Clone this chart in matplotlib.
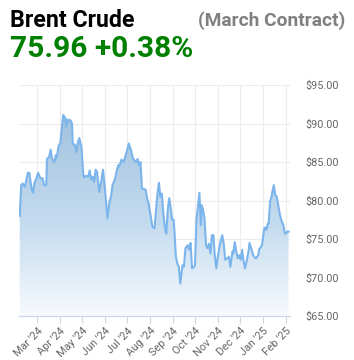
import matplotlib
matplotlib.use("Agg")
import matplotlib.pyplot as plt
import matplotlib.dates as mdates
from matplotlib.colors import LinearSegmentedColormap
from matplotlib.ticker import FuncFormatter
from matplotlib.patches import PathPatch
import numpy as np
import pandas as pd

dates = [
    "2024-02-06", "2024-02-08", "2024-02-10", "2024-02-13", "2024-02-17", "2024-02-19", "2024-02-22", "2024-02-24",
    "2024-02-26", "2024-02-28", "2024-03-02", "2024-03-05", "2024-03-08", "2024-03-10", "2024-03-13", "2024-03-14",
    "2024-03-17", "2024-03-19", "2024-03-21", "2024-03-24", "2024-03-26", "2024-03-27", "2024-03-30", "2024-04-01",
    "2024-04-03", "2024-04-05", "2024-04-08", "2024-04-09", "2024-04-11", "2024-04-15", "2024-04-17", "2024-04-18",
    "2024-04-21", "2024-04-23", "2024-04-25", "2024-04-27", "2024-04-30", "2024-05-02", "2024-05-03", "2024-05-06",
    "2024-05-09", "2024-05-11", "2024-05-13", "2024-05-15", "2024-05-17", "2024-05-19", "2024-05-21", "2024-05-24",
    "2024-05-27", "2024-05-29", "2024-05-31", "2024-06-02", "2024-06-04", "2024-06-07", "2024-06-09", "2024-06-11",
    "2024-06-14", "2024-06-17", "2024-06-19", "2024-06-20", "2024-06-23", "2024-06-26", "2024-06-29", "2024-07-01",
    "2024-07-03", "2024-07-06", "2024-07-08", "2024-07-10", "2024-07-13", "2024-07-15", "2024-07-17", "2024-07-19",
    "2024-07-21", "2024-07-23", "2024-07-26", "2024-07-28", "2024-07-30", "2024-08-02", "2024-08-04", "2024-08-07",
    "2024-08-09", "2024-08-11", "2024-08-13", "2024-08-15", "2024-08-17", "2024-08-19", "2024-08-21", "2024-08-23",
    "2024-08-25", "2024-08-27", "2024-08-29", "2024-08-31", "2024-09-02", "2024-09-03", "2024-09-05", "2024-09-07",
    "2024-09-09", "2024-09-11", "2024-09-14", "2024-09-16", "2024-09-18", "2024-09-21", "2024-09-23", "2024-09-25",
    "2024-09-27", "2024-09-30", "2024-10-01", "2024-10-03", "2024-10-05", "2024-10-07", "2024-10-09", "2024-10-10",
    "2024-10-12", "2024-10-14", "2024-10-16", "2024-10-18", "2024-10-20", "2024-10-22", "2024-10-24", "2024-10-26",
    "2024-10-28", "2024-10-30", "2024-11-01", "2024-11-04", "2024-11-07", "2024-11-09", "2024-11-11", "2024-11-14",
    "2024-11-16", "2024-11-18", "2024-11-21", "2024-11-22", "2024-11-24", "2024-11-26", "2024-11-28", "2024-11-30",
    "2024-12-02", "2024-12-04", "2024-12-06", "2024-12-08", "2024-12-10", "2024-12-13", "2024-12-14", "2024-12-17",
    "2024-12-19", "2024-12-21", "2024-12-23", "2024-12-26", "2024-12-27", "2024-12-29", "2024-12-31", "2025-01-03",
    "2025-01-05", "2025-01-06", "2025-01-08", "2025-01-09", "2025-01-11", "2025-01-13", "2025-01-14", "2025-01-16",
    "2025-01-18", "2025-01-20", "2025-01-22", "2025-01-24", "2025-01-26", "2025-01-29", "2025-01-31", "2025-02-02",
    "2025-02-04", "2025-02-05",
]
prices = [
    78.0, 82.0, 82.2, 81.8, 83.6, 83.6, 81.6, 81.0,
    82.3, 82.7, 83.6, 82.9, 82.9, 82.0, 82.0, 85.4,
    85.7, 86.6, 85.4, 85.0, 85.9, 85.5, 87.2, 87.4,
    89.2, 91.1, 90.7, 89.6, 90.5, 90.4, 90.0, 87.4,
    87.2, 86.3, 87.6, 88.1, 86.8, 83.7, 83.0, 83.2,
    83.1, 83.9, 82.7, 83.1, 82.4, 84.0, 83.7, 81.1,
    82.7, 84.0, 82.2, 80.1, 77.7, 79.9, 80.5, 82.0,
    82.7, 84.0, 84.6, 84.4, 85.3, 85.0, 85.9, 86.6,
    87.4, 86.6, 85.7, 85.3, 85.0, 85.4, 84.6, 85.0,
    81.6, 81.5, 81.4, 80.3, 79.6, 77.9, 76.6, 76.4,
    78.6, 80.9, 82.3, 80.5, 80.9, 78.3, 76.6, 75.7,
    78.8, 80.3, 79.0, 77.5, 77.5, 76.2, 72.7, 71.8,
    71.4, 69.2, 71.6, 71.4, 73.8, 74.2, 73.6, 74.5,
    71.2, 71.4, 71.6, 77.7, 79.2, 81.0, 76.8, 79.4,
    78.8, 77.5, 74.2, 73.8, 74.4, 73.1, 75.5, 75.5,
    72.7, 71.2, 72.7, 74.4, 75.5, 74.4, 72.3, 72.5,
    72.7, 71.4, 73.4, 73.1, 74.6, 73.4, 72.5, 72.9,
    72.3, 73.6, 72.1, 71.2, 72.1, 73.6, 74.5, 73.6,
    72.9, 72.6, 72.5, 72.9, 73.6, 73.9, 74.2, 76.4,
    76.5, 76.2, 77.0, 77.0, 79.9, 80.5, 81.1, 82.0,
    80.7, 80.5, 79.4, 78.3, 77.5, 76.8, 75.7, 75.8,
    76.0, 75.96,
]
month_ticks = ["2024-03-01", "2024-04-01", "2024-05-01", "2024-06-01", "2024-07-01", "2024-08-01",
               "2024-09-01", "2024-10-01", "2024-11-01", "2024-12-01", "2025-01-01", "2025-02-01"]
y_ticks = [65, 70, 75, 80, 85, 90, 95]
title = "Brent Crude"
subtitle = "(March Contract)"
last_price = "75.96"
change = "+0.38%"

x = pd.to_datetime(dates)
xn = mdates.date2num(x)
y = np.array(prices)

W, H = 354, 360
fig = plt.figure(figsize=(W / 100, H / 100), dpi=100)
fig.patch.set_facecolor("white")

left, right, top, bottom = 19, 290, 85, 316
ax = fig.add_axes([left / W, 1 - bottom / H, (right - left) / W, (bottom - top) / H])
ax.set_facecolor("white")

xmin = mdates.date2num(pd.Timestamp("2024-02-05"))
xmax = mdates.date2num(pd.Timestamp("2025-02-07"))
ax.set_xlim(xmin, xmax)
ax.set_ylim(65, 95)

# gradient fill under the line
cmap = LinearSegmentedColormap.from_list("g", [(0, "#f7fafe"), (0.45, "#c3dbef"), (0.75, "#b0cde6"), (1, "#a0c0db")])
grad = np.linspace(0, 1, 256).reshape(-1, 1)
im = ax.imshow(grad, extent=[xmin, xmax, 65, 92], origin="lower", aspect="auto", cmap=cmap, zorder=1)
poly = ax.fill_between(xn, y, 65, color="none", lw=0, zorder=1)
pp = PathPatch(poly.get_paths()[0], transform=ax.transData, facecolor="none", edgecolor="none")
ax.add_patch(pp)
im.set_clip_path(pp)

ax.plot(xn, y, color="#7cb5ec", lw=1.5, zorder=3, solid_joinstyle="round")

# grid
ax.set_yticks(y_ticks)
ax.set_xticks(mdates.date2num(pd.to_datetime(month_ticks)))
ax.grid(True, color="#ececec", lw=0.8, zorder=0)
ax.set_axisbelow(True)

for s in ["top", "left", "right"]:
    ax.spines[s].set_visible(False)
ax.spines["bottom"].set_color("#ccd6eb")
ax.spines["bottom"].set_linewidth(0.9)

ax.yaxis.tick_right()
ax.yaxis.set_major_formatter(FuncFormatter(lambda v, p: f"${v:.2f}"))
ax.tick_params(axis="y", length=0, pad=11, labelsize=7.8, labelcolor="#666666")
ax.xaxis.set_major_formatter(mdates.DateFormatter("%b '%y"))
ax.tick_params(axis="x", length=5, width=0.8, color="#ccd6eb", pad=2, labelsize=7.8, labelcolor="#666666")
for lab in ax.get_yticklabels():
    lab.set_fontfamily("Roboto")
for lab in ax.get_xticklabels():
    lab.set_rotation(45)
    lab.set_ha("right")
    lab.set_va("top")
    lab.set_rotation_mode("anchor")
    lab.set_fontfamily("Roboto")

fig.text(10 / W, 1 - 27 / H, title, fontsize=16.7, fontweight="bold", family="Roboto", color="black", va="baseline", ha="left")
fig.text(345 / W, 1 - 26 / H, subtitle, fontsize=13.8, fontweight="bold", family="Roboto", color="#808080", va="baseline", ha="right")
fig.text(10 / W, 1 - 57 / H, f"{last_price} {change}", fontsize=21.5, fontweight="bold", family="Roboto", color="#008000", va="baseline", ha="left")

fig.savefig("out.png", dpi=100, facecolor="white")
